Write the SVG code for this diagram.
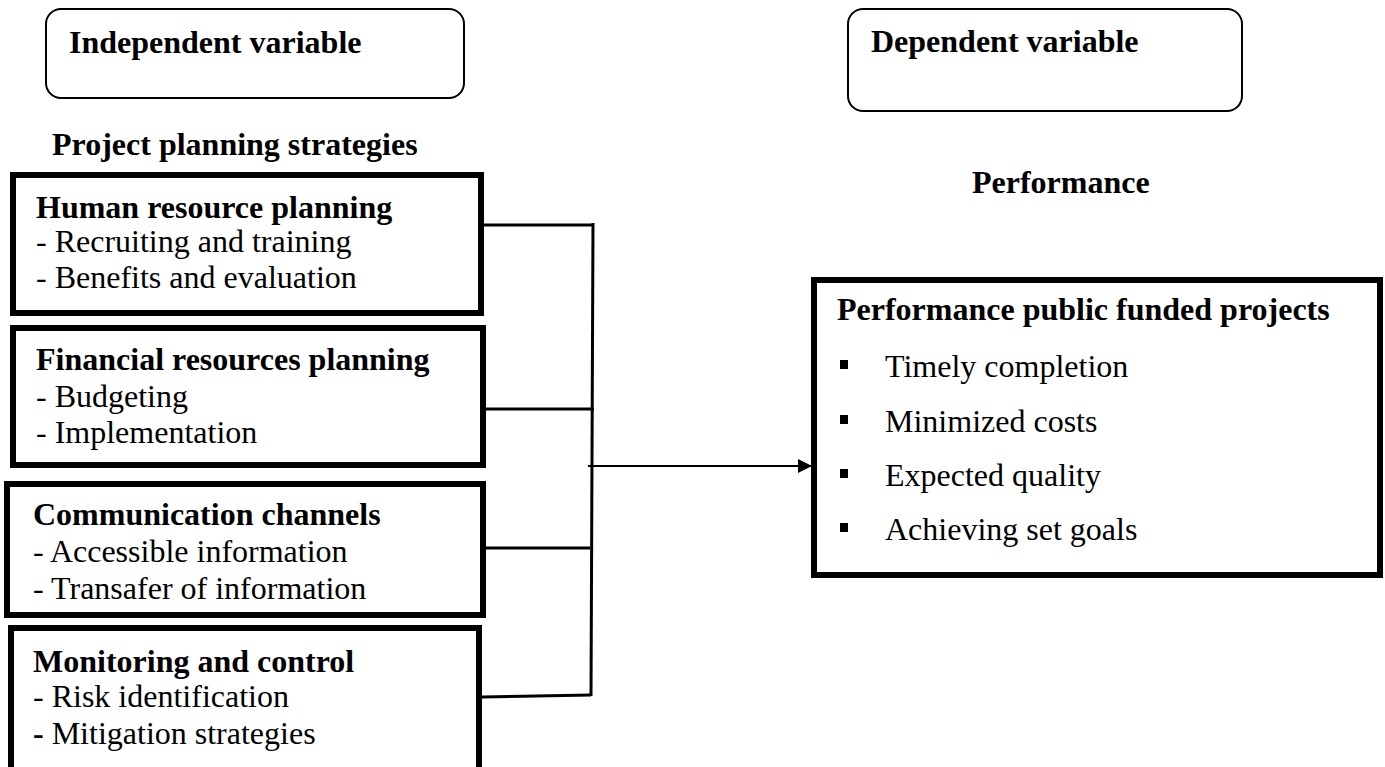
<svg xmlns="http://www.w3.org/2000/svg" width="1385" height="767" viewBox="0 0 1385 767">
<style>
text{font-family:"Liberation Serif","Times New Roman",serif;font-size:32px;fill:#000}
.b{font-weight:bold}
.hdr{fill:#fff;stroke:#000;stroke-width:2}
.box{fill:#fff;stroke:#000;stroke-width:6}
.con{fill:none;stroke:#000;stroke-width:3}
</style>
<defs>
<marker id="ah" markerWidth="14" markerHeight="14" refX="13" refY="7" orient="auto" markerUnits="userSpaceOnUse">
<path d="M0,0 L14,7 L0,14 Z" fill="#000"/>
</marker>
</defs>
<rect width="1385" height="767" fill="#fff"/>
<g id="independent-header">
<rect class="hdr" x="46" y="9" width="418" height="89" rx="15"/>
<text class="b" x="69" y="53">Independent variable</text>
</g>
<g id="dependent-header">
<rect class="hdr" x="848" y="9" width="394" height="102" rx="15"/>
<text class="b" x="871" y="52">Dependent variable</text>
</g>
<g id="label-strategies">
<text class="b" x="52" y="155">Project planning strategies</text>
</g>
<g id="label-performance">
<text class="b" x="972" y="193">Performance</text>
</g>
<g id="node-human">
<rect class="box" x="13" y="175" width="468" height="138"/>
<text class="b" x="36" y="218">Human resource planning</text>
<text x="36" y="252">- Recruiting and training</text>
<text x="36" y="288">- Benefits and evaluation</text>
</g>
<g id="node-financial">
<rect class="box" x="13" y="328" width="470" height="137"/>
<text class="b" x="36" y="370">Financial resources planning</text>
<text x="36" y="407">- Budgeting</text>
<text x="36" y="443">- Implementation</text>
</g>
<g id="node-communication">
<rect class="box" x="7" y="484" width="476" height="131"/>
<text class="b" x="33" y="525">Communication channels</text>
<text x="33" y="562">- Accessible information</text>
<text x="33" y="599">- Transafer of information</text>
</g>
<g id="node-monitoring">
<rect class="box" x="11" y="628" width="468" height="200"/>
<text class="b" x="33" y="672">Monitoring and control</text>
<text x="33" y="707">- Risk identification</text>
<text x="33" y="744"><tspan class="b">-</tspan> Mitigation strategies</text>
</g>
<g id="node-performance">
<rect class="box" x="814" y="280" width="566" height="295"/>
<text class="b" x="837" y="320">Performance public funded projects</text>
<rect x="840" y="360" width="8" height="9"/>
<text x="885" y="377">Timely completion</text>
<rect x="840" y="415" width="8" height="9"/>
<text x="885" y="432">Minimized costs</text>
<rect x="840" y="469" width="8" height="9"/>
<text x="885" y="486">Expected quality</text>
<rect x="840" y="523" width="8" height="9"/>
<text x="885" y="540">Achieving set goals</text>
</g>
<g id="connectors">
<line class="con" x1="484" y1="225" x2="594" y2="225"/>
<line class="con" x1="486" y1="409" x2="594" y2="409"/>
<line class="con" x1="486" y1="548" x2="590" y2="548" stroke-width="2.5"/>
<line class="con" x1="482" y1="697" x2="591" y2="695"/>
<line class="con" x1="593" y1="223" x2="591" y2="696"/>
<line x1="588" y1="466" x2="811" y2="466" stroke="#000" stroke-width="2" marker-end="url(#ah)"/>
</g>
</svg>
